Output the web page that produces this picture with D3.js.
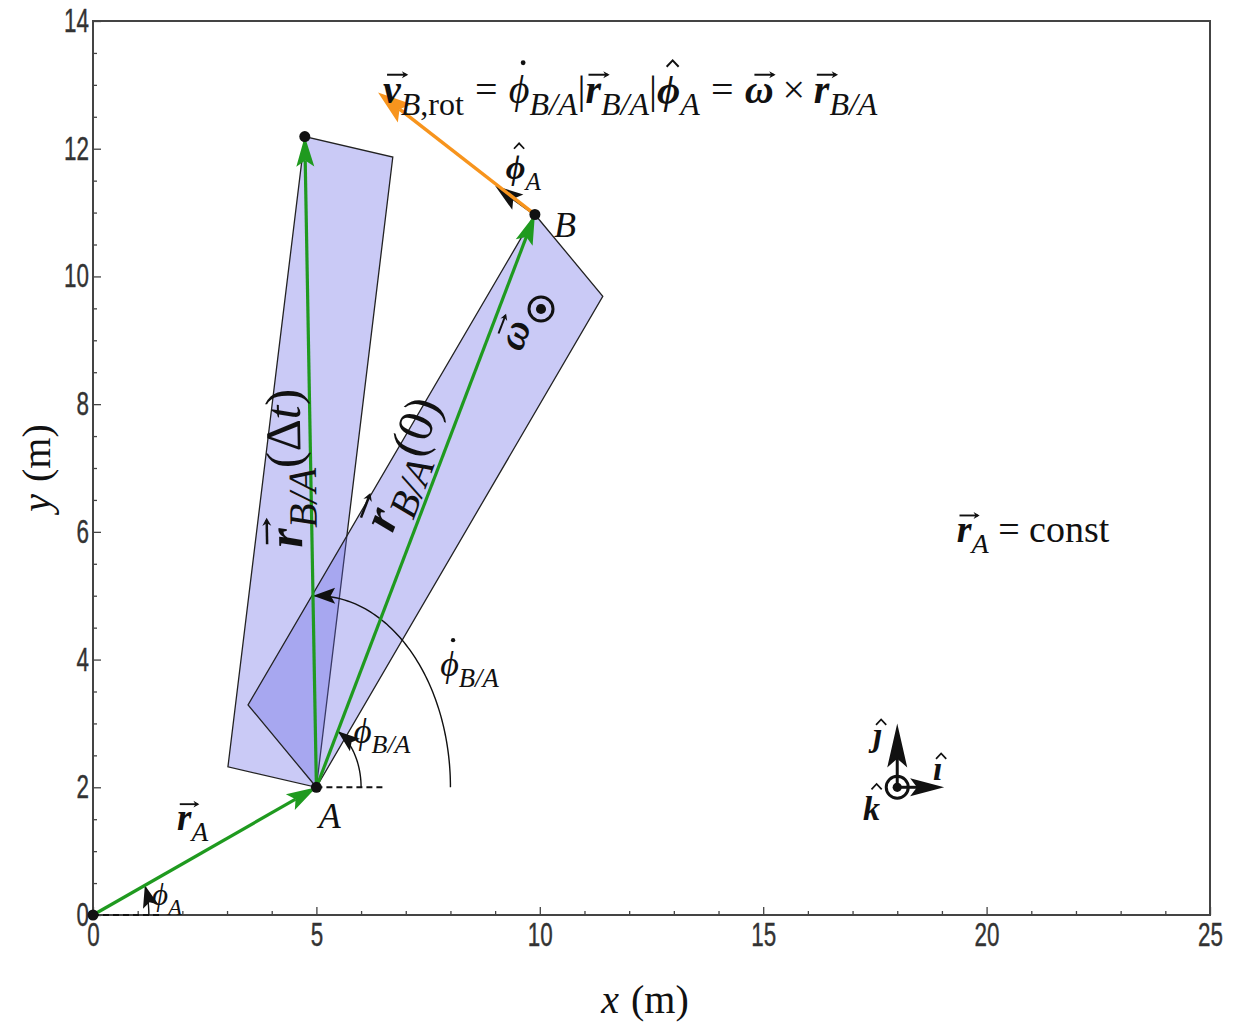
<!DOCTYPE html>
<html><head><meta charset="utf-8">
<script src="https://cdn.jsdelivr.net/npm/d3@7"></script>
<style>html,body{margin:0;padding:0;background:#fff;} svg{display:block;}</style>
</head><body>
<svg id="c" width="1253" height="1029"></svg>
<script>
// ---------- data ----------
const xTicks = [0, 5, 10, 15, 20, 25];
const yTicks = [0, 2, 4, 6, 8, 10, 12, 14];
const xTickLabels = ["0", "5", "10", "15", "20", "25"];
const yTickLabels = ["0", "2", "4", "6", "8", "10", "12", "14"];

// key points: origin O, A, B at t=0, B at t=Δt
const pointNames = ["O", "A", "B", "B(Δt)"];
const pointX = [0, 5, 9.89, 4.74];
const pointY = [0, 2, 10.97, 12.19];

// green position vectors: r_A, r_B/A(0), r_B/A(Δt)
const greenFromX = [0, 5, 5];
const greenFromY = [0, 2, 2];
const greenToX = [5, 9.89, 4.74];
const greenToY = [2, 10.97, 12.19];

// rigid bodies (rectangles) at t=0 and t=Δt
const rect0X = [5, 11.41, 9.89, 3.47];
const rect0Y = [2, 9.69, 10.97, 3.29];
const rectDtX = [5, 6.71, 4.74, 3.02];
const rectDtY = [2, 11.87, 12.19, 2.32];

// rotational velocity of B (orange) and unit vector phi-hat (black)
const vRotFrom = [9.89, 10.97];
const vRotTo = [6.38, 12.88];
const phiHatTo = [9.0, 11.42];

// angle arcs: phi_A, phi_B/A, phidot_B/A
const arcCenterX = [0, 5, 5];
const arcCenterY = [0, 2, 2];
const arcRadius = [1.25, 1.0, 3.0];
const arcEndDeg = [21.8, 61.4, 91.4];

// dashed reference lines
const dashFromX = [0, 5];
const dashToX = [1.5, 6.5];
const dashY = [0, 2];

// unit vector triad
const triadOrigin = [18, 2];
const triadI = [19.05, 2];
const triadJ = [18, 3.0];

// ---------- setup ----------
const svg = d3.select("#c");
const W = 1253, H = 1029;
svg.append("rect").attr("width", W).attr("height", H).attr("fill", "#fff");
const x = d3.scaleLinear().domain([0, 25]).range([93, 1210]);
const y = d3.scaleLinear().domain([0, 14]).range([915, 21]);
const SERIF = "'Liberation Serif','DejaVu Serif',serif";
const SANS = "'Liberation Sans','Arial',sans-serif";
const INK = "#111";

// ---------- helpers ----------
function head(g, tx, ty, ang, L, Wd, color) {
  const c = Math.cos(ang), s = Math.sin(ang);
  const bx = tx - L * c, by = ty - L * s;
  const nx = tx - 0.8 * L * c, ny = ty - 0.8 * L * s;
  g.append("path")
    .attr("d", `M${tx},${ty}L${bx - s * Wd / 2},${by + c * Wd / 2}L${nx},${ny}L${bx + s * Wd / 2},${by - c * Wd / 2}Z`)
    .attr("fill", color);
}
function arrow(g, x1, y1, x2, y2, color, sw, L, Wd) {
  const ang = Math.atan2(y2 - y1, x2 - x1);
  g.append("line").attr("x1", x1).attr("y1", y1)
    .attr("x2", x2 - 0.8 * L * Math.cos(ang)).attr("y2", y2 - 0.8 * L * Math.sin(ang))
    .attr("stroke", color).attr("stroke-width", sw);
  head(g, x2, y2, ang, L, Wd, color);
}

function mathText(parent, items, size, subScale) {
  const g = parent.append("g");
  let cx0 = 0;
  items.forEach(it => {
    const s = it.sub ? size * subScale : size * (it.scale || 1);
    const by = it.sub ? size * 0.3 : 0;
    cx0 += (it.pre || 0) * size;
    const t = g.append("text").attr("x", cx0).attr("y", by).text(it.t)
      .attr("font-family", it.font || SERIF).attr("font-size", s)
      .attr("font-style", it.i ? "italic" : "normal")
      .attr("font-weight", it.b ? "bold" : "normal").attr("fill", INK);
    const w = t.node().getComputedTextLength();
    const sk = it.i ? 0.1 * s : 0;
    const cx = cx0 + w / 2 + sk + (it.acx || 0) * s;
    const top = by - s * (it.tall ? 0.78 : 0.5);
    if (it.vec) {
      const y0 = top - s * 0.2;
      const x1 = cx - s * 0.22, x2 = cx + s * 0.26;
      g.append("path").attr("d", `M${x1},${y0}L${x2},${y0}`).attr("stroke", INK).attr("stroke-width", Math.max(1, s * 0.05));
      g.append("path").attr("d", `M${x2 + s * 0.05},${y0}L${x2 - s * 0.11},${y0 - s * 0.09}L${x2 - s * 0.06},${y0}L${x2 - s * 0.11},${y0 + s * 0.09}Z`).attr("fill", INK);
    }
    if (it.hat) {
      const y0 = top - s * 0.12;
      g.append("path").attr("d", `M${cx - s * 0.15},${y0}L${cx},${y0 - s * 0.16}L${cx + s * 0.15},${y0}`)
        .attr("fill", "none").attr("stroke", INK).attr("stroke-width", Math.max(1, s * 0.05));
    }
    if (it.dot) {
      g.append("circle").attr("cx", cx).attr("cy", top - s * 0.22).attr("r", s * 0.06).attr("fill", INK);
    }
    cx0 += w + (it.post || 0) * size;
  });
  return { g, w: cx0 };
}
function label(px, py, items, size, opts = {}) {
  const outer = svg.append("g").attr("transform", `translate(${px},${py}) rotate(${opts.rot || 0})`);
  const m = mathText(outer, items, size, opts.sub || 0.74);
  if (opts.anchor === "middle") m.g.attr("transform", `translate(${-m.w / 2},0)`);
  if (opts.anchor === "end") m.g.attr("transform", `translate(${-m.w},0)`);
  return m;
}

// ---------- frame & axes ----------
const axG = svg.append("g");
const minorX = d3.range(0, 25.01, 1).filter(v => v % 5 !== 0);
const minorY = d3.range(0, 14.01, 0.5).filter(v => v % 2 !== 0);
axG.append("g").attr("transform", "translate(0,915)")
  .call(d3.axisBottom(x).tickValues(minorX).tickSize(-4).tickFormat(""));
axG.append("g").attr("transform", "translate(93,0)")
  .call(d3.axisLeft(y).tickValues(minorY).tickSize(-4).tickFormat(""));
axG.append("g").attr("transform", "translate(0,915)")
  .call(d3.axisBottom(x).tickValues(xTicks).tickSize(-8).tickPadding(8).tickFormat((d, i) => xTickLabels[i]));
axG.append("g").attr("transform", "translate(93,0)")
  .call(d3.axisLeft(y).tickValues(yTicks).tickSize(-8).tickPadding(6).tickFormat((d, i) => yTickLabels[i]));
axG.selectAll(".domain").remove();
axG.selectAll(".tick line").attr("stroke", "#444").attr("stroke-width", 1.3);
axG.selectAll(".tick text").attr("font-family", SANS).attr("font-size", 33).attr("fill", "#333")
  .attr("stroke", "#333").attr("stroke-width", 0.4)
  .attr("transform", "scale(0.68,1)");
svg.append("rect").attr("x", 93).attr("y", 21).attr("width", 1210 - 93).attr("height", 915 - 21)
  .attr("fill", "none").attr("stroke", "#444").attr("stroke-width", 2);

// ---------- rectangles ----------
const poly = (xs, ys) => xs.map((v, i) => [x(v), y(ys[i])]).map(p => p.join(",")).join(" ");
svg.append("polygon").attr("points", poly(rectDtX, rectDtY))
  .attr("fill", "rgb(100,100,230)").attr("fill-opacity", 0.34).attr("stroke", "#222").attr("stroke-width", 1.3);
svg.append("polygon").attr("points", poly(rect0X, rect0Y))
  .attr("fill", "rgb(100,100,230)").attr("fill-opacity", 0.34).attr("stroke", "#222").attr("stroke-width", 1.3);

// ---------- arcs ----------
const arcLine = d3.line().x(d => x(d[0])).y(d => y(d[1]));
arcCenterX.forEach((cxv, i) => {
  const n = 80, pts = [];
  for (let k = 0; k <= n; k++) {
    const a = arcEndDeg[i] * Math.PI / 180 * k / n;
    pts.push([cxv + arcRadius[i] * Math.cos(a), arcCenterY[i] + arcRadius[i] * Math.sin(a)]);
  }
  svg.append("path").attr("d", arcLine(pts)).attr("fill", "none").attr("stroke", INK).attr("stroke-width", 1.4);
  const p1 = pts[n - 2], p2 = pts[n];
  const ang = Math.atan2(y(p2[1]) - y(p1[1]), x(p2[0]) - x(p1[0]));
  head(svg, x(p2[0]), y(p2[1]), ang, 22, 16, INK);
});

// ---------- dashed reference lines ----------
dashFromX.forEach((v, i) => {
  svg.append("line").attr("x1", x(v)).attr("x2", x(dashToX[i])).attr("y1", y(dashY[i])).attr("y2", y(dashY[i]))
    .attr("stroke", INK).attr("stroke-width", 2).attr("stroke-dasharray", "6,4");
});

// ---------- green vectors ----------
greenFromX.forEach((v, i) => {
  arrow(svg, x(v), y(greenFromY[i]), x(greenToX[i]), y(greenToY[i]), "#1f9a1f", 3.2, 30, 18);
});

// ---------- phi-hat (black) and v_rot (orange) ----------
arrow(svg, x(vRotFrom[0]), y(vRotFrom[1]), x(phiHatTo[0]), y(phiHatTo[1]), INK, 2.5, 28, 19);
arrow(svg, x(vRotFrom[0]), y(vRotFrom[1]), x(vRotTo[0]), y(vRotTo[1]), "#f7941d", 3.5, 34, 23);

// ---------- points ----------
pointX.forEach((v, i) => {
  svg.append("circle").attr("cx", x(v)).attr("cy", y(pointY[i])).attr("r", 5.5).attr("fill", INK);
});

// ---------- unit vector triad ----------
const tox = x(triadOrigin[0]), toy = y(triadOrigin[1]);
svg.append("line").attr("x1", tox).attr("y1", toy).attr("x2", x(triadJ[0])).attr("y2", y(triadJ[1]) + 30).attr("stroke", INK).attr("stroke-width", 3);
head(svg, x(triadJ[0]), y(triadJ[1]), -Math.PI / 2, 44, 20, INK);
svg.append("line").attr("x1", tox).attr("y1", toy).attr("x2", x(triadI[0]) - 25).attr("y2", y(triadI[1])).attr("stroke", INK).attr("stroke-width", 3);
head(svg, x(triadI[0]), y(triadI[1]), 0, 34, 18, INK);
function odot(cx, cy, r) {
  svg.append("circle").attr("cx", cx).attr("cy", cy).attr("r", r).attr("fill", "none").attr("stroke", INK).attr("stroke-width", 3);
  svg.append("circle").attr("cx", cx).attr("cy", cy).attr("r", r * 0.42).attr("fill", INK);
}
odot(tox, toy, 11);

// ---------- labels ----------
const BA = { t: "B/A", i: 1, sub: 1 };
// equation at top
label(x(6.49), y(12.72), [
  { t: "v", i: 1, b: 1, vec: 1 }, { t: "B", i: 1, sub: 1 }, { t: ",rot", sub: 1 },
  { t: "=", pre: 0.28, post: 0.28 },
  { t: "ϕ", i: 1, dot: 1, tall: 1 }, BA,
  { t: "|" }, { t: "r", i: 1, b: 1, vec: 1 }, BA, { t: "|" },
  { t: "ϕ", i: 1, b: 1, hat: 1, tall: 1 }, { t: "A", i: 1, sub: 1 },
  { t: "=", pre: 0.28, post: 0.28 },
  { t: "ω", i: 1, b: 1, vec: 1 }, { t: "×", pre: 0.22, post: 0.22 },
  { t: "r", i: 1, b: 1, vec: 1 }, BA
], 40, { sub: 0.8 });

label(x(9.24), y(11.52), [{ t: "ϕ", i: 1, b: 1, hat: 1, tall: 1 }, { t: "A", i: 1, sub: 1 }], 34);
label(x(10.32), y(10.62), [{ t: "B", i: 1 }], 36);
label(x(5.05), y(1.36), [{ t: "A", i: 1 }], 36);
label(x(1.88), y(1.33), [{ t: "r", i: 1, b: 1, vec: 1 }, { t: "A", i: 1, sub: 1 }], 37);
label(x(1.32), y(0.15), [{ t: "ϕ", i: 1, tall: 1 }, { t: "A", i: 1, sub: 1 }], 31);
label(x(5.83), y(2.7), [{ t: "ϕ", i: 1, tall: 1 }, BA], 35);
label(x(7.77), y(3.74), [{ t: "ϕ", i: 1, tall: 1, dot: 1 }, BA], 36);
label(x(19.33), y(5.84), [{ t: "r", i: 1, b: 1, vec: 1 }, { t: "A", i: 1, sub: 1 }, { t: "=", pre: 0.25, post: 0.25 }, { t: "const" }], 38);

// rotated labels along the vectors
const angDt = Math.atan2(y(greenToY[2]) - y(greenFromY[2]), x(greenToX[2]) - x(greenFromX[2])) * 180 / Math.PI;
const ang0 = Math.atan2(y(greenToY[1]) - y(greenFromY[1]), x(greenToX[1]) - x(greenFromX[1])) * 180 / Math.PI;
label(x(4.65), y(7.0), [{ t: "r", i: 1, b: 1, vec: 1 }, BA, { t: "(" }, { t: "Δ" }, { t: "t", i: 1 }, { t: ")" }], 50, { rot: angDt, anchor: "middle", sub: 0.8 });
label(x(7.25), y(6.98), [{ t: "r", i: 1, b: 1, vec: 1 }, BA, { t: "(" }, { t: "0" }, { t: ")" }], 50, { rot: ang0, anchor: "middle", sub: 0.8 });
label(x(9.7), y(9.02), [{ t: "ω", i: 1, b: 1, vec: 1 }], 40, { rot: ang0, anchor: "middle" });
odot(541, 309, 12);

// triad labels
label(873, 746, [{ t: "ȷ", i: 1, b: 1, hat: 1 }], 34);
label(933, 780, [{ t: "ı", i: 1, b: 1, hat: 1 }], 34);
label(863, 820, [{ t: "k", i: 1, b: 1, hat: 1, tall: 1, acx: 0.05 }], 34);

// axis titles
label(645, 1013, [{ t: "x", i: 1 }, { t: "(m)", pre: 0.3 }], 40, { anchor: "middle" });
label(50, 468, [{ t: "y", i: 1 }, { t: "(m)", pre: 0.3 }], 40, { rot: -90, anchor: "middle" });
</script>
</body></html>
